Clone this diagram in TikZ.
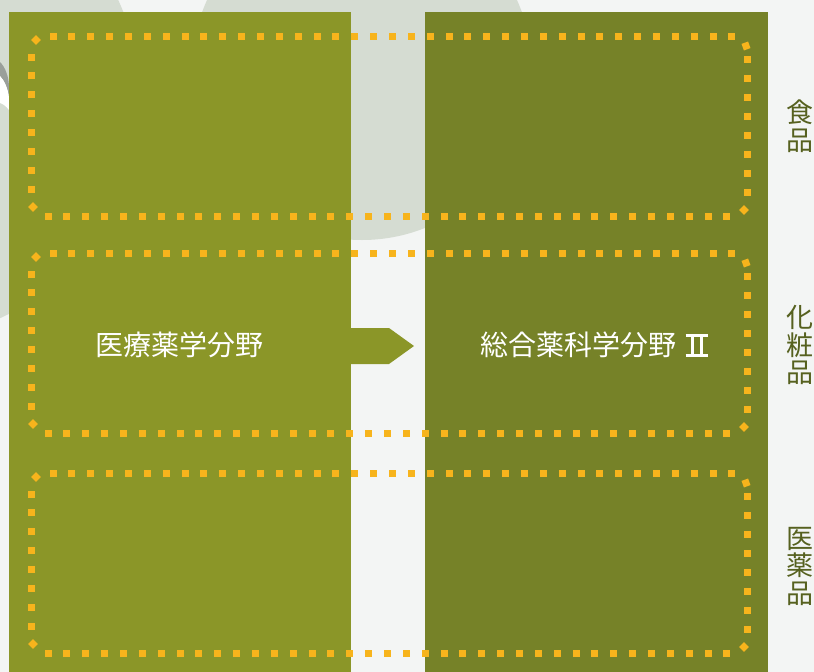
\documentclass[tikz,border=0pt]{standalone}
\usepackage{fontspec}
\newfontfamily\jp{Noto Sans CJK JP}
\definecolor{bgc}{HTML}{F3F5F4}
\definecolor{sage}{HTML}{D5DCD2}
\definecolor{oliveL}{HTML}{8B9628}
\definecolor{oliveR}{HTML}{768228}
\definecolor{dotc}{HTML}{F7B41C}
\definecolor{labc}{HTML}{56611F}
\definecolor{shadowc}{HTML}{9A9F9A}
\tikzset{
  maintext/.style={font=\jp\fontsize{28}{30}\selectfont, text=white, inner sep=0pt},
  sidelabel/.style={font=\jp\fontsize{27}{27.5}\selectfont, text=labc, align=center, inner sep=0pt},
}
\newcommand\romtwo{\hspace{9pt}\makebox[22pt][l]{\rlap{\rule[-1pt]{22pt}{2.4pt}}\rlap{\rule[19pt]{22pt}{2.4pt}}\hspace{5pt}\rule[-1pt]{3pt}{22.4pt}\hspace{6pt}\rule[-1pt]{3pt}{22.4pt}}}
\newcommand\sqdot[3]{\fill[dotc, rotate around={#3:(#1,#2)}] ({#1-3.5},{#2-3.5}) rectangle ({#1+3.5},{#2+3.5});}
\newcommand\dotbox[2]{%
  \foreach \i in {0,...,36} {\fill[dotc] ({49.5+\i*18.86},{#1-3.5}) rectangle +(7,7);}
  \foreach \i in {0,...,36} {\fill[dotc] ({44.5+\i*18.86},{#2-3.5}) rectangle +(7,7);}
  \foreach \i in {0,...,7} {\fill[dotc] (27.5,{#1+17.5+\i*18.86}) rectangle +(7,7);}
  \foreach \i in {0,...,7} {\fill[dotc] (743.5,{#1+19.5+\i*19}) rectangle +(7,7);}
  \sqdot{36}{#1+4}{45}
  \sqdot{33}{#2-9}{45}
  \sqdot{744}{#2-6}{45}
  \sqdot{746}{#1+10}{20}
}
\begin{document}
\begin{tikzpicture}[x=1pt,y=-1pt]
\useasboundingbox (0,0) rectangle (814,672);
\fill[bgc] (0,0) rectangle (814,672);
% background discs
\fill[sage] (362,70) circle [radius=170pt];
\fill[sage] (-100,100) circle [radius=240pt];
% small shadow at left edge
\fill[shadowc] (0,62) .. controls (5,67) and (9,76) .. (9,88) -- (9,98) .. controls (8,88) and (4,80) .. (0,76) -- cycle;
\fill[white] (0,76) .. controls (4,80) and (8,88) .. (9,98) -- (9,110) .. controls (6,106) and (3,104) .. (0,103) -- cycle;
% panels
\fill[oliveL] (9,12) rectangle (351,672);
\fill[oliveR] (425,12) rectangle (768,672);
% arrow
\fill[oliveL] (350,328) -- (389,328) -- (414,346) -- (389,364) -- (350,364) -- cycle;
% dotted frames
\dotbox{36}{216}
\dotbox{253}{433}
\dotbox{473}{653}
% texts
\node[maintext] (med) at (179,345) {医療薬学分野};
\node[maintext] (gen) at (594,345) {総合薬科学分野\romtwo};
\node[sidelabel] (food) at (800,126) {食\\品};
\node[sidelabel] (cosm) at (800,345) {化\\粧\\品};
\node[sidelabel] (drug) at (800,566) {医\\薬\\品};
\end{tikzpicture}
\end{document}
